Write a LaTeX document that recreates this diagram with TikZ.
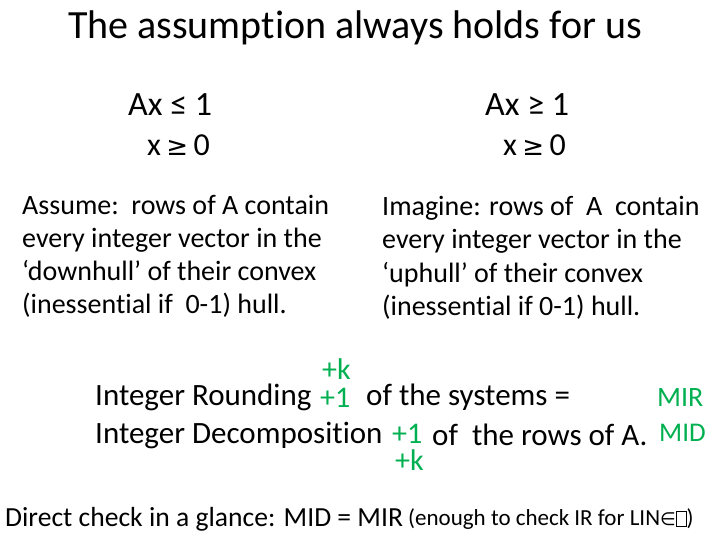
\documentclass[tikz,border=0pt]{standalone}
\usepackage{fontspec}
\setmainfont{Carlito}[Ligatures={NoCommon}]
\newfontfamily\dv{DejaVu Sans}
\definecolor{grn}{RGB}{0,176,80}
\begin{document}
\begin{tikzpicture}[x=1pt,y=-1pt,
  t/.style={inner sep=0pt,anchor=west},
  g/.style={t,text=grn}]
\useasboundingbox (0,0) rectangle (720,540);
\node[inner sep=0pt] (title) at (355,28) {\fontsize{40}{44}\selectfont The assumption always holds for us};
\node[t] (l1) at (128,105) {\fontsize{34}{38}\selectfont Ax ≤ 1};
\node[t] (l2) at (147,145) {\fontsize{32}{36}\selectfont x\,{\dv\fontsize{26}{30}\selectfont ≥}\,0};
\node[t] (r1) at (485,105) {\fontsize{34}{38}\selectfont Ax ≥ 1};
\node[t] (r2) at (503,145) {\fontsize{32}{36}\selectfont x\,{\dv\fontsize{26}{30}\selectfont ≥}\,0};
\node[t,anchor=north west,align=left,font=\fontsize{28}{33}\selectfont] (lp) at (22,195) {Assume:\ \ rows of A contain\\every integer vector in the\\‘downhull’ of their convex\\(inessential if\ \ 0-1) hull.};
\node[t,anchor=north west,align=left,font=\fontsize{28}{33.3}\selectfont] (rp) at (382,196) {Imagine: rows of\ \ A\ \ contain\\every integer vector in the\\‘uphull’ of their convex\\(inessential if 0-1) hull.};
\node[g] (k1) at (322,369) {\fontsize{30}{33}\selectfont +k};
\node[t] (ir) at (95,397) {\fontsize{31}{34}\selectfont Integer Rounding};
\node[g] (p1) at (320,398) {\fontsize{30}{33}\selectfont +1};
\node[t] (sys) at (366,397) {\fontsize{31}{34}\selectfont of the systems =};
\node[g] (mir) at (657,398) {\fontsize{28}{32}\selectfont MIR};
\node[t] (id) at (95,435) {\fontsize{31}{34}\selectfont Integer Decomposition};
\node[g] (p2) at (392,434) {\fontsize{30}{33}\selectfont +1};
\node[t] (rows) at (432,435) {\fontsize{31}{34}\selectfont of\ \ the rows of A.};
\node[g] (mid) at (659,433) {\fontsize{27}{30}\selectfont MID};
\node[g] (k2) at (395,460) {\fontsize{30}{33}\selectfont +k};
\node[t] (dc) at (5,519) {\fontsize{27.6}{31}\selectfont Direct check in a glance: MID = MIR};
\node[t] (en) at (408,519) {\fontsize{23}{27}\selectfont (enough to check IR for LIN{\dv\fontsize{18}{22}\selectfont ∈}\raisebox{-1pt}{\tikz\draw[line width=0.8pt](0,0) rectangle (10pt,15pt);})};
\end{tikzpicture}
\end{document}
